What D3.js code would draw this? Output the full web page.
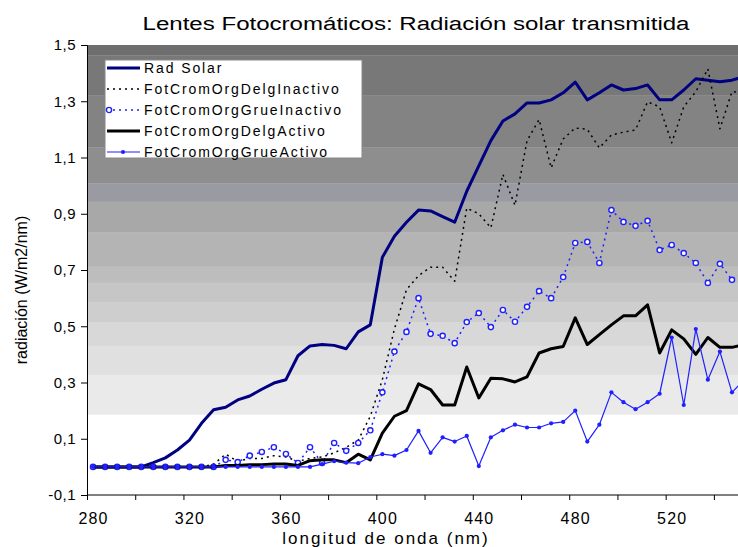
<!DOCTYPE html>
<html>
<head>
<meta charset="utf-8">
<script src="https://cdn.jsdelivr.net/npm/d3@7/dist/d3.min.js"></script>
<style>
  body { margin: 0; background: #fff; }
  svg { display: block; font-family: "Liberation Sans", Arial, sans-serif; }
</style>
</head>
<body>
<svg id="chart" width="738" height="547"></svg>
<script>
// longitudes de onda (categorias)
var wavelengths = [280, 285, 290, 295, 300, 305, 310, 315, 320, 325,
  330, 335, 340, 345, 350, 355, 360, 365, 370, 375,
  380, 385, 390, 395, 400, 405, 410, 415, 420, 425,
  430, 435, 440, 445, 450, 455, 460, 465, 470, 475,
  480, 485, 490, 495, 500, 505, 510, 515, 520, 525,
  530, 535, 540, 545, 550];

// series
var radSolar = [0, 0, 0, 0, 0, 0.015, 0.032, 0.06, 0.095, 0.155,
  0.203, 0.212, 0.238, 0.252, 0.276, 0.298, 0.31, 0.395, 0.43, 0.435,
  0.432, 0.42, 0.48, 0.505, 0.745, 0.82, 0.87, 0.913, 0.91, 0.89,
  0.87, 0.98, 1.07, 1.16, 1.23, 1.255, 1.294, 1.294, 1.305, 1.33,
  1.368, 1.305, 1.33, 1.358, 1.34, 1.345, 1.358, 1.305, 1.305, 1.34,
  1.38, 1.375, 1.369, 1.375, 1.388];

var delgInactivo = [0, 0, 0, 0, 0, 0, 0, 0, 0, 0,
  0.01, 0.045, 0.02, 0.03, 0.03, 0.04, 0.035, 0.02, 0.03, 0.035,
  0.05, 0.07, 0.095, 0.18, 0.31, 0.49, 0.63, 0.68, 0.71, 0.71,
  0.66, 0.92, 0.9, 0.85, 1.04, 0.93, 1.16, 1.235, 1.063, 1.166,
  1.205, 1.2, 1.134, 1.18, 1.19, 1.198, 1.298, 1.28, 1.152, 1.28,
  1.334, 1.415, 1.202, 1.334, 1.33];

var grueInactivo = [0, 0, 0, 0, 0, 0, 0, 0, 0, 0,
  0, 0.025, 0.017, 0.04, 0.053, 0.07, 0.046, 0.014, 0.07, 0.014,
  0.085, 0.057, 0.085, 0.13, 0.265, 0.41, 0.48, 0.6, 0.473, 0.466,
  0.44, 0.515, 0.547, 0.497, 0.558, 0.516, 0.569, 0.625, 0.6, 0.675,
  0.796, 0.8, 0.725, 0.913, 0.871, 0.857, 0.875, 0.771, 0.789, 0.76,
  0.725, 0.654, 0.722, 0.665, 0.693];

var delgActivo = [0, 0, 0, 0, 0, 0, 0, 0, 0, 0,
  0, 0.005, 0.005, 0.008, 0.008, 0.01, 0.01, 0.005, 0.022, 0.025,
  0.025, 0.015, 0.045, 0.025, 0.12, 0.18, 0.2, 0.295, 0.275, 0.22,
  0.22, 0.355, 0.245, 0.315, 0.313, 0.302, 0.32, 0.405, 0.42, 0.428,
  0.53, 0.435, 0.47, 0.505, 0.537, 0.537, 0.576, 0.405, 0.487, 0.455,
  0.4, 0.46, 0.425, 0.425, 0.435];

var grueActivo = [0, 0, 0, 0, 0, 0, 0, 0, 0, 0,
  0, 0, 0, 0, 0, 0, 0, 0, 0, 0.01,
  0.02, 0.015, 0.013, 0.035, 0.045, 0.04, 0.06, 0.128, 0.05, 0.105,
  0.09, 0.11, 0.003, 0.105, 0.13, 0.15, 0.14, 0.14, 0.155, 0.16,
  0.2, 0.09, 0.15, 0.265, 0.23, 0.205, 0.23, 0.26, 0.46, 0.22,
  0.49, 0.31, 0.41, 0.265, 0.31];

var seriesNames = ["Rad Solar", "FotCromOrgDelgInactivo", "FotCromOrgGrueInactivo",
  "FotCromOrgDelgActivo", "FotCromOrgGrueActivo"];

// ejes
var yTicks = [-0.1, 0.1, 0.3, 0.5, 0.7, 0.9, 1.1, 1.3, 1.5];
var xLabels = [280, 320, 360, 400, 440, 480, 520];
var xTickBounds = [277.5, 297.5, 317.5, 337.5, 357.5, 377.5, 397.5, 417.5, 437.5, 457.5, 477.5, 497.5, 517.5, 537.5];

// franjas del fondo (limites en unidades de y)
var bandEdges = [1.5, 1.464, 1.322, 1.137, 1.009, 0.942, 0.835, 0.711, 0.654, 0.586, 0.515, 0.43, 0.327, 0.185, -0.1];
var bandColors = ["#6e6e6e", "#787878", "#838383", "#8e8e8e", "#9a9aa3", "#a8a8a8", "#b4b4b4",
  "#bdbdbd", "#c6c6c6", "#cecece", "#d8d8d8", "#e0e0e0", "#eaeaea", "#ffffff"];

var svg = d3.select("#chart");
var plotL = 87, plotR = 738, plotT = 45, plotB = 495;

var x = d3.scaleLinear().domain([277.5, 547.5]).range([plotL, plotR]);
var y = d3.scaleLinear().domain([-0.1, 1.5]).range([plotB, plotT]);

svg.append("defs").append("clipPath").attr("id", "clip")
  .append("rect").attr("x", plotL).attr("y", plotT - 5).attr("width", plotR - plotL).attr("height", plotB - plotT + 10);

// fondo con franjas
svg.append("g").selectAll("rect")
  .data(bandColors)
  .enter().append("rect")
  .attr("x", plotL)
  .attr("width", plotR - plotL)
  .attr("y", function(d, i) { return y(bandEdges[i]); })
  .attr("height", function(d, i) { return y(bandEdges[i + 1]) - y(bandEdges[i]); })
  .attr("fill", function(d) { return d; });

// titulo
svg.append("text")
  .attr("x", 416).attr("y", 30)
  .attr("text-anchor", "middle")
  .attr("font-size", 18)
  .attr("textLength", 547)
  .attr("lengthAdjust", "spacingAndGlyphs")
  .text("Lentes Fotocromáticos: Radiación solar transmitida");

// eje y
var yAxis = svg.append("g")
  .attr("transform", "translate(" + plotL + ",0)")
  .call(d3.axisLeft(y).tickValues(yTicks).tickSize(6).tickPadding(5)
    .tickFormat(function(d) { return d.toFixed(1).replace(".", ","); }));
yAxis.selectAll("text").attr("font-size", 15).attr("letter-spacing", 0.5).attr("fill", "#000");
yAxis.select(".domain").attr("stroke", "#000");

// eje x
var xAxis = svg.append("g")
  .attr("transform", "translate(0," + plotB + ")")
  .call(d3.axisBottom(x).tickValues(xTickBounds).tickSize(5).tickFormat(""));
xAxis.select(".domain").attr("d", "M" + plotL + ",0H" + plotR).attr("stroke", "#000");

var xLab = svg.append("g")
  .attr("transform", "translate(0," + plotB + ")")
  .call(d3.axisBottom(x).tickValues(xLabels).tickSize(0).tickPadding(18).tickFormat(d3.format("d")));
xLab.select(".domain").remove();
xLab.selectAll("text").attr("font-size", 16).attr("letter-spacing", 1.2).attr("fill", "#000");

// titulos de ejes
svg.append("text")
  .attr("x", 386).attr("y", 544)
  .attr("text-anchor", "middle")
  .attr("font-size", 17)
  .attr("letter-spacing", 2)
  .text("longitud de onda (nm)");

svg.append("text")
  .attr("transform", "translate(27,290) rotate(-90)")
  .attr("text-anchor", "middle")
  .attr("font-size", 16)
  .text("radiación (W/m2/nm)");

// lineas
var line = d3.line()
  .x(function(d, i) { return x(wavelengths[i]); })
  .y(function(d) { return y(d); });

var plot = svg.append("g").attr("clip-path", "url(#clip)");

var styles = [
  { data: radSolar, color: "#000080", width: 3, dash: null },
  { data: delgInactivo, color: "#000", width: 1.5, dash: "2,4" },
  { data: grueInactivo, color: "#1f1fff", width: 1.5, dash: "2,4" },
  { data: delgActivo, color: "#000", width: 3, dash: null },
  { data: grueActivo, color: "#1f1fff", width: 1.2, dash: null }
];

styles.forEach(function(s, k) {
  plot.append("path")
    .attr("d", line(s.data))
    .attr("fill", "none")
    .attr("stroke", s.color)
    .attr("stroke-width", s.width)
    .attr("stroke-linejoin", "round")
    .attr("stroke-dasharray", s.dash);
  if (k === 2) {
    plot.selectAll(null).data(s.data).enter().append("circle")
      .attr("cx", function(d, i) { return x(wavelengths[i]); })
      .attr("cy", function(d) { return y(d); })
      .attr("r", 2.6)
      .attr("fill", "#fff")
      .attr("stroke", s.color)
      .attr("stroke-width", 1.4);
  }
  if (k === 4) {
    plot.selectAll(null).data(s.data).enter().append("path")
      .attr("transform", function(d, i) { return "translate(" + x(wavelengths[i]) + "," + y(d) + ")"; })
      .attr("d", d3.symbol().type(d3.symbolCircle).size(14))
      .attr("fill", s.color);
  }
});

// leyenda
var legend = svg.append("g").attr("transform", "translate(105,60)");
legend.append("rect")
  .attr("width", 257).attr("height", 98)
  .attr("fill", "#fff").attr("stroke", "#888").attr("stroke-width", 1);

var item = legend.selectAll("g.item")
  .data(seriesNames)
  .enter().append("g")
  .attr("transform", function(d, i) { return "translate(0," + (8 + i * 21) + ")"; });

item.append("line")
  .attr("x1", 2).attr("x2", 35).attr("y1", 0).attr("y2", 0)
  .attr("stroke", function(d, i) { return styles[i].color; })
  .attr("stroke-width", function(d, i) { return styles[i].width; })
  .attr("stroke-dasharray", function(d, i) { return styles[i].dash; });

item.filter(function(d, i) { return i === 2; }).append("circle")
  .attr("cx", 4).attr("cy", 0).attr("r", 2.6)
  .attr("fill", "#fff").attr("stroke", "#1f1fff").attr("stroke-width", 1.4);
item.filter(function(d, i) { return i === 4; }).append("path")
  .attr("transform", "translate(18,0)")
  .attr("d", d3.symbol().type(d3.symbolCircle).size(14))
  .attr("fill", "#1f1fff");

item.append("text")
  .attr("x", 39).attr("y", 5)
  .attr("font-size", 14)
  .attr("letter-spacing", 1.9)
  .text(function(d) { return d; });
</script>
</body>
</html>
